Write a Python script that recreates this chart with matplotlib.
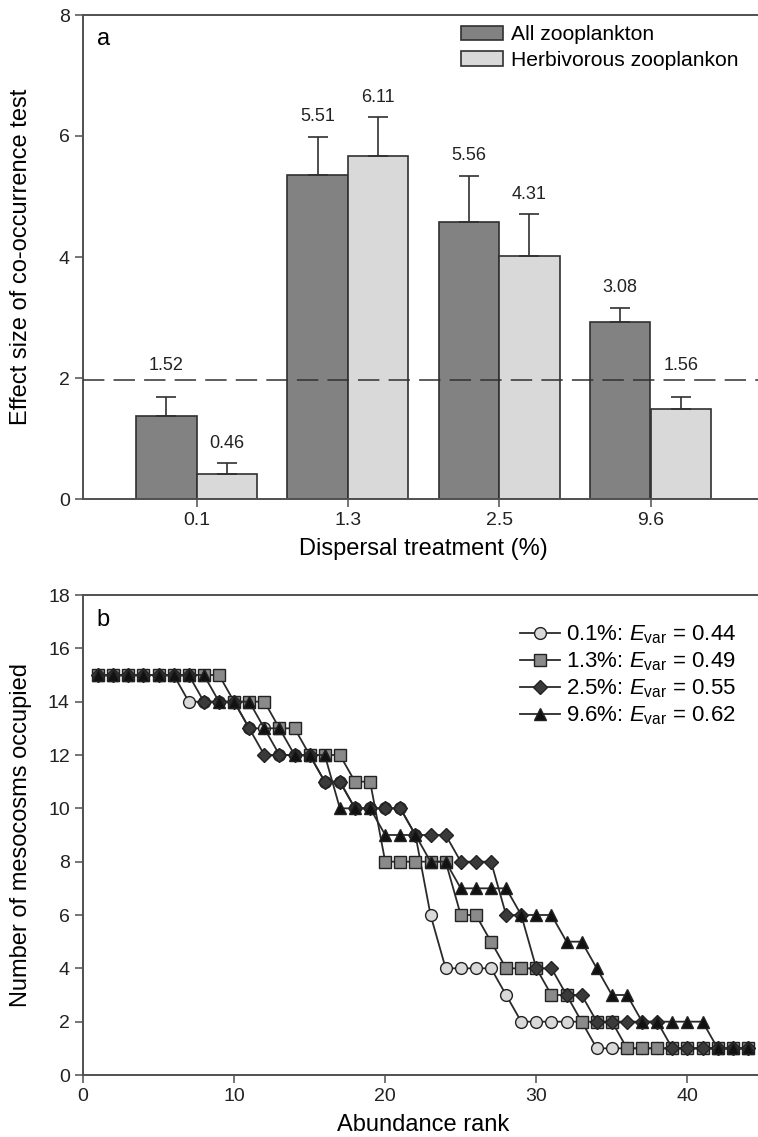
import matplotlib
matplotlib.use("Agg")
import matplotlib.pyplot as plt
import numpy as np

plt.rcParams['font.family'] = ['Liberation Sans', 'DejaVu Sans']
plt.rcParams['mathtext.fontset'] = 'custom'
plt.rcParams['mathtext.rm'] = 'Liberation Sans'
plt.rcParams['mathtext.it'] = 'Liberation Sans:italic'

# ---- panel a data ----
treatments = ['0.1', '1.3', '2.5', '9.6']
all_zoo = [1.37, 5.35, 4.58, 2.92]
all_zoo_err = [0.31, 0.64, 0.76, 0.24]
herb_zoo = [0.41, 5.67, 4.01, 1.48]
herb_zoo_err = [0.18, 0.64, 0.70, 0.20]
all_labels = ['1.52', '5.51', '5.56', '3.08']
herb_labels = ['0.46', '6.11', '4.31', '1.56']
threshold = 1.96

# ---- panel b data ----
rank = list(range(1, 45))
occ_01 = [15, 15, 15, 15, 15, 15, 14, 14, 14, 14, 13, 13, 12, 12, 12, 11, 11, 10, 10, 10, 10, 9,
          6, 4, 4, 4, 4, 3, 2, 2, 2, 2, 2, 1, 1, 1, 1, 1, 1, 1, 1, 1, 1, 1]
occ_13 = [15, 15, 15, 15, 15, 15, 15, 15, 15, 14, 14, 14, 13, 13, 12, 12, 12, 11, 11, 8, 8, 8,
          8, 8, 6, 6, 5, 4, 4, 4, 3, 3, 2, 2, 2, 1, 1, 1, 1, 1, 1, 1, 1, 1]
occ_25 = [15, 15, 15, 15, 15, 15, 15, 14, 14, 14, 13, 12, 12, 12, 12, 11, 11, 10, 10, 10, 10, 9,
          9, 9, 8, 8, 8, 6, 6, 4, 4, 3, 3, 2, 2, 2, 2, 2, 1, 1, 1, 1, 1, 1]
occ_96 = [15, 15, 15, 15, 15, 15, 15, 15, 14, 14, 14, 13, 13, 12, 12, 12, 10, 10, 10, 9, 9, 9,
          8, 8, 7, 7, 7, 7, 6, 6, 6, 5, 5, 4, 3, 3, 2, 2, 2, 2, 2, 1, 1, 1]
series_labels = [r'0.1%: $E_{\rm var}$ = 0.44', r'1.3%: $E_{\rm var}$ = 0.49',
                 r'2.5%: $E_{\rm var}$ = 0.55', r'9.6%: $E_{\rm var}$ = 0.62']

fig = plt.figure(figsize=(7.58, 11.37), dpi=100)
ax1 = fig.add_axes([83 / 758, 1 - 499 / 1137, 681 / 758, 484 / 1137])
ax2 = fig.add_axes([83 / 758, 1 - 1075 / 1137, 680 / 758, 480 / 1137])

edge = '#303030'
spine_c = '#505050'

# ---- panel a ----
x = np.arange(len(treatments))
w = 0.4
ax1.bar(x - w / 2, all_zoo, w, color='#828282', edgecolor=edge, linewidth=1.2,
        label='All zooplankton', zorder=2)
ax1.bar(x + w / 2, herb_zoo, w, color='#d9d9d9', edgecolor=edge, linewidth=1.2,
        label='Herbivorous zooplankon', zorder=2)
ax1.errorbar(x - w / 2, all_zoo, yerr=[np.zeros(4), all_zoo_err], fmt='none',
             ecolor=edge, elinewidth=1.2, capsize=7, capthick=1.2, zorder=3)
ax1.errorbar(x + w / 2, herb_zoo, yerr=[np.zeros(4), herb_zoo_err], fmt='none',
             ecolor=edge, elinewidth=1.2, capsize=7, capthick=1.2, zorder=3)
ax1.axhline(threshold, color='#303030', lw=1.1, ls=(0, (14, 6)), zorder=4)


def label_pos(top):
    y = top + 0.33
    if abs(y - threshold) < 0.2:
        y = threshold + 0.24
    return y


for xi, v, e, t in zip(x - w / 2, all_zoo, all_zoo_err, all_labels):
    ax1.text(xi, label_pos(v + e), t, ha='center', va='center', fontsize=13, color='#222222')
for xi, v, e, t in zip(x + w / 2, herb_zoo, herb_zoo_err, herb_labels):
    ax1.text(xi, label_pos(v + e), t, ha='center', va='center', fontsize=13, color='#222222')

ax1.set_xlim(-0.75, 3.75)
ax1.set_ylim(0, 8)
ax1.set_xticks(x)
ax1.set_xticklabels(treatments)
ax1.set_yticks([0, 2, 4, 6, 8])
ax1.set_xlabel('Dispersal treatment (%)', fontsize=17, labelpad=6)
ax1.set_ylabel('Effect size of co-occurrence test', fontsize=17)
ax1.text(0.02, 0.95, 'a', transform=ax1.transAxes, fontsize=17, va='center')
ax1.legend(loc='upper right', bbox_to_anchor=(0.99, 1.018), frameon=False, fontsize=15.2,
           handlelength=2.0, handleheight=0.7, handletextpad=0.35, labelspacing=0.3)

# ---- panel b ----
styles = [
    (occ_01, 'o', '#d9d9d9', 8.5),
    (occ_13, 's', '#8a8a8a', 8.0),
    (occ_25, 'D', '#3a3a3a', 7.6),
    (occ_96, '^', '#111111', 9.0),
]
for i, (vals, mk, fc, ms) in enumerate(styles):
    ax2.plot(rank, vals, color='#2a2a2a', lw=1.3, marker=mk, markersize=ms,
             markerfacecolor=fc, markeredgecolor='#222222', markeredgewidth=1.0,
             label=series_labels[i], zorder=2 + i)

ax2.set_xlim(0, 45)
ax2.set_ylim(0, 18)
ax2.set_xticks([0, 10, 20, 30, 40])
ax2.set_yticks(range(0, 19, 2))
ax2.set_xlabel('Abundance rank', fontsize=17, labelpad=6)
ax2.set_ylabel('Number of mesocosms occupied', fontsize=17)
ax2.text(0.02, 0.948, 'b', transform=ax2.transAxes, fontsize=17, va='center')
ax2.legend(loc='upper right', bbox_to_anchor=(0.99, 0.982), frameon=False, fontsize=16,
           handlelength=1.8, handletextpad=0.25, labelspacing=0.2)

for ax in (ax1, ax2):
    ax.spines['right'].set_visible(False)
    for s in ('left', 'bottom', 'top'):
        ax.spines[s].set_linewidth(1.4)
        ax.spines[s].set_color(spine_c)
    ax.tick_params(direction='out', length=6, width=1.1, color=spine_c,
                   labelsize=14, labelcolor='#222222')
    ax.yaxis.set_label_coords(-0.075, 0.5)

fig.savefig('out.png', dpi=100)
